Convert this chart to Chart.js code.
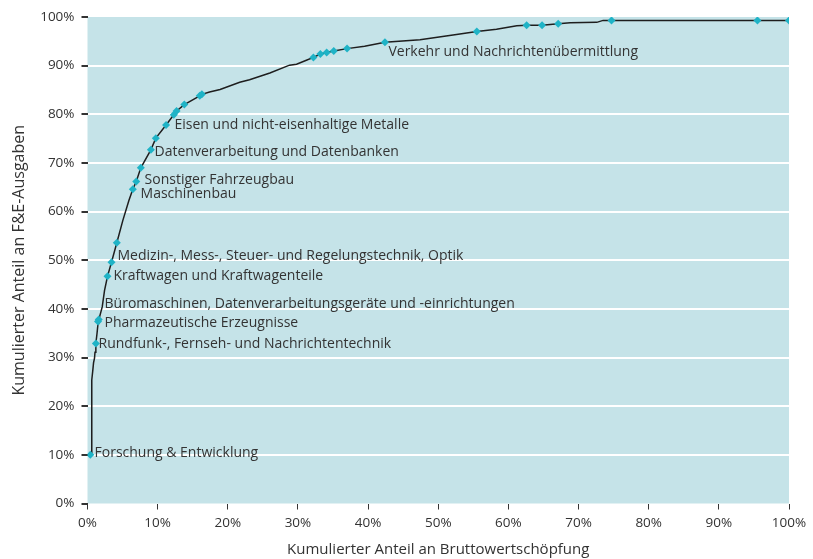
<!DOCTYPE html>
<html>
<head>
<meta charset="utf-8">
<script src="https://cdn.jsdelivr.net/npm/chart.js@4"></script>
<style>
  html, body { margin: 0; padding: 0; background: #ffffff; }
  #wrap { width: 813px; height: 559px; }
</style>
</head>
<body>
<div id="wrap"><canvas id="lorenzChart" width="813" height="559"></canvas></div>
<script>
// cumulative share of value added (x) vs cumulative share of R&D spending (y), in %
const curveX = [0.4, 0.61, 0.61, 0.76, 0.86, 1.0, 1.07, 1.19, 1.36, 1.5, 1.6, 2.1, 2.43, 2.85, 3.42, 4.18, 5.04, 5.9,
    6.46, 6.95, 7.6, 9.03, 9.74, 11.2, 12.3, 12.7, 13.8, 16.0, 16.3, 17.4, 18.9, 21.7, 23.1, 26.0, 28.8, 29.8, 31.2,
    32.2, 33.2, 34.1, 35.1, 37.0, 39.5, 42.4, 47.4, 52.6, 55.5, 58.3, 61.2, 62.6, 64.8, 67.1, 68.8, 72.6, 73.5, 74.7,
    95.5, 100];
const curveY = [10, 10.4, 25.4, 27.4, 28.9, 29.9, 31.1, 32.9, 35.0, 37.0, 37.7, 40.4, 43.8, 46.7, 49.6, 53.6, 58.2, 62.3,
    64.6, 66.2, 69.0, 72.7, 75.1, 77.8, 79.9, 80.7, 82.0, 83.8, 84.1, 84.6, 85.1, 86.6, 87.1, 88.5, 90.1, 90.3, 91.1,
    91.7, 92.4, 92.7, 93.0, 93.5, 94.0, 94.8, 95.3, 96.4, 97.0, 97.5, 98.2, 98.3, 98.3, 98.6, 98.8, 98.9, 99.3, 99.3,
    99.3, 99.3];

// highlighted industries (diamonds)
const markerX = [0.4, 1.19, 1.5, 1.6, 2.85, 3.42, 4.18, 6.46, 6.95, 7.6, 9.03, 9.74, 11.2, 12.3, 12.7, 13.8, 16.0, 16.3,
    32.2, 33.2, 34.1, 35.1, 37.0, 42.4, 55.5, 62.6, 64.8, 67.1, 74.7, 95.5, 100];
const markerY = [10, 32.9, 37.4, 37.8, 46.7, 49.6, 53.6, 64.6, 66.2, 69.0, 72.7, 75.1, 77.8, 79.9, 80.7, 82.0, 83.8, 84.1,
    91.7, 92.4, 92.7, 93.0, 93.5, 94.8, 97.0, 98.3, 98.3, 98.6, 99.3, 99.3, 99.3];

// industry labels, anchored in data units (left edge / vertical middle)
const labelTexts = [
    'Verkehr und Nachrichtenübermittlung',
    'Eisen und nicht-eisenhaltige Metalle',
    'Datenverarbeitung und Datenbanken',
    'Sonstiger Fahrzeugbau',
    'Maschinenbau',
    'Medizin-, Mess-, Steuer- und Regelungstechnik, Optik',
    'Kraftwagen und Kraftwagenteile',
    'Büromaschinen, Datenverarbeitungsgeräte und -einrichtungen',
    'Pharmazeutische Erzeugnisse',
    'Rundfunk-, Fernseh- und Nachrichtentechnik',
    'Forschung & Entwicklung'
];
const labelX = [42.9, 12.4, 9.56, 8.13, 7.56, 4.28, 3.71, 2.43, 2.43, 1.57, 1.0];
const labelY = [92.7, 77.9, 72.2, 66.4, 63.6, 50.8, 46.7, 41.0, 37.1, 32.8, 10.4];

const FONT = '"Open Sans", "Noto Sans", sans-serif';
const TEXT = '#333333';

const plotBackground = {
    id: 'plotBackground',
    beforeDraw(chart) {
        const { ctx, chartArea: a } = chart;
        ctx.save();
        ctx.fillStyle = '#c5e3e8';
        ctx.fillRect(a.left, a.top, a.right - a.left, a.bottom - a.top);
        ctx.restore();
    }
};

const industryLabels = {
    id: 'industryLabels',
    afterDatasetsDraw(chart) {
        const { ctx, scales } = chart;
        ctx.save();
        ctx.font = '14px ' + FONT;
        ctx.fillStyle = TEXT;
        ctx.textAlign = 'left';
        ctx.textBaseline = 'middle';
        labelTexts.forEach((txt, i) => {
            ctx.fillText(txt, scales.x.getPixelForValue(labelX[i]), scales.y.getPixelForValue(labelY[i]));
        });
        ctx.restore();
    }
};

new Chart(document.getElementById('lorenzChart'), {
    type: 'scatter',
    data: {
        datasets: [
            {
                label: 'Branchen',
                data: markerX.map((x, i) => ({ x: x, y: markerY[i] })),
                pointStyle: 'rectRot',
                pointRadius: 4,
                backgroundColor: '#1fb3c6',
                borderColor: '#1fb3c6',
                borderWidth: 0,
                order: 0
            },
            {
                label: 'Kurve',
                data: curveX.map((x, i) => ({ x: x, y: curveY[i] })),
                showLine: true,
                pointRadius: 0,
                borderColor: '#1e1e1e',
                borderWidth: 1.5,
                tension: 0,
                order: 1
            }
        ]
    },
    options: {
        responsive: false,
        animation: false,
        layout: { padding: { top: 17, right: 24, left: 10, bottom: 0 } },
        plugins: {
            legend: { display: false },
            tooltip: { enabled: false }
        },
        scales: {
            x: {
                type: 'linear',
                min: 0,
                max: 100,
                border: { display: false },
                grid: {
                    drawOnChartArea: false,
                    tickColor: '#333333',
                    tickLength: 6
                },
                ticks: {
                    stepSize: 10,
                    color: TEXT,
                    font: { family: FONT, size: 13.5 },
                    padding: 6,
                    maxRotation: 0,
                    callback: v => v + '%'
                },
                title: {
                    display: true,
                    text: 'Kumulierter Anteil an Bruttowertschöpfung',
                    color: TEXT,
                    font: { family: FONT, size: 15 },
                    padding: { top: 4, bottom: 0 }
                },
                afterFit: s => { s.height = 55.5; }
            },
            y: {
                min: 0,
                max: 100,
                border: { display: false },
                grid: {
                    color: c => (c.tick && (c.tick.value === 0 || c.tick.value === 100)) ? 'rgba(0,0,0,0)' : '#ffffff',
                    lineWidth: 2,
                    tickColor: '#333333',
                    tickLength: 6
                },
                ticks: {
                    stepSize: 10,
                    color: TEXT,
                    font: { family: FONT, size: 13.5 },
                    padding: 7,
                    callback: v => v + '%'
                },
                title: {
                    display: true,
                    text: 'Kumulierter Anteil an F&E-Ausgaben',
                    color: TEXT,
                    font: { family: FONT, size: 16 },
                    padding: { top: 0, bottom: 4 }
                },
                afterFit: s => { s.width = 77.5; }
            }
        }
    },
    plugins: [plotBackground, industryLabels]
});
</script>
</body>
</html>
